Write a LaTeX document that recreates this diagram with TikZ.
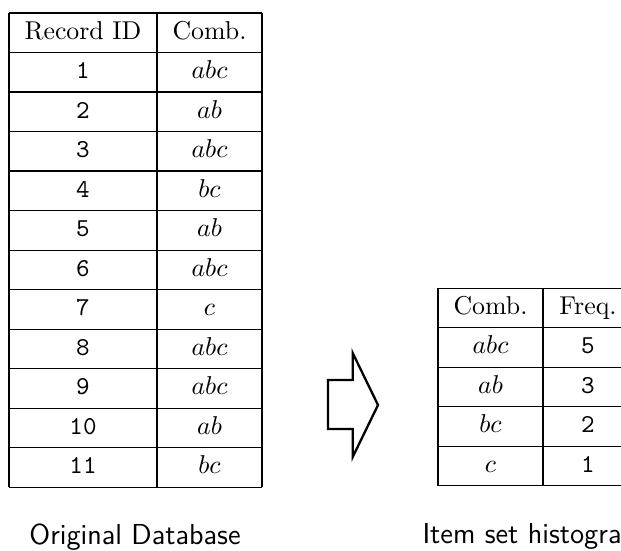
\documentclass[tikz,border=0pt]{standalone}
\begin{document}
\begin{tikzpicture}[x=0.3876pt,y=-0.3876pt,
  grid/.style={line width=0.4pt,black},
  cell/.style={anchor=base,inner sep=0pt,font=\fontsize{10}{12}\selectfont},
  captiontext/.style={anchor=base,inner sep=0pt,font=\sffamily\fontsize{11.2}{13}\selectfont},
  blockarrow/.style={line width=0.9pt,line join=miter,black}]
\useasboundingbox (0,0) rectangle (621,550);
% ---------- left table ----------
\foreach \k in {0,...,12} \draw[grid] (9,13+39.5*\k) -- (262,13+39.5*\k);
\foreach \xx in {9,157,262} \draw[grid] (\xx,13) -- (\xx,487);
\node[cell] (hRec) at (83,39) {Record ID};
\node[cell] (hComb) at (209.5,39) {Comb.};
\foreach \id/\cmb [count=\i] in {1/abc,2/ab,3/abc,4/bc,5/ab,6/abc,7/c,8/abc,9/abc,10/ab,11/bc}{
  \node[cell] (id\i) at (83,39+39.5*\i) {\texttt{\id}};
  \node[cell] (cb\i) at (209.5,39+39.5*\i) {$\cmb$};
}
\node[captiontext] (capL) at (135,544) {Original Database};
% ---------- arrow ----------
\draw[blockarrow] (328,380) -- (352.7,380) -- (352.7,353) -- (378,405) -- (352.7,457) -- (352.7,429) -- (328,429) -- cycle;
% ---------- right table ----------
\foreach \k in {0,...,5} \draw[grid] (438,288+39.5*\k) -- (633,288+39.5*\k);
\foreach \xx in {438,543,633} \draw[grid] (\xx,288) -- (\xx,485.5);
\node[cell] (hComb2) at (490.5,314) {Comb.};
\node[cell] (hFreq) at (588,314) {Freq.};
\foreach \cmb/\fr [count=\i] in {abc/5,ab/3,bc/2,c/1}{
  \node[cell] (cc\i) at (490.5,314+39.5*\i) {$\cmb$};
  \node[cell] (fr\i) at (588,314+39.5*\i) {\texttt{\fr}};
}
\node[captiontext,anchor=base west] (capR) at (422,543) {Item set histogram};
\end{tikzpicture}
\end{document}
